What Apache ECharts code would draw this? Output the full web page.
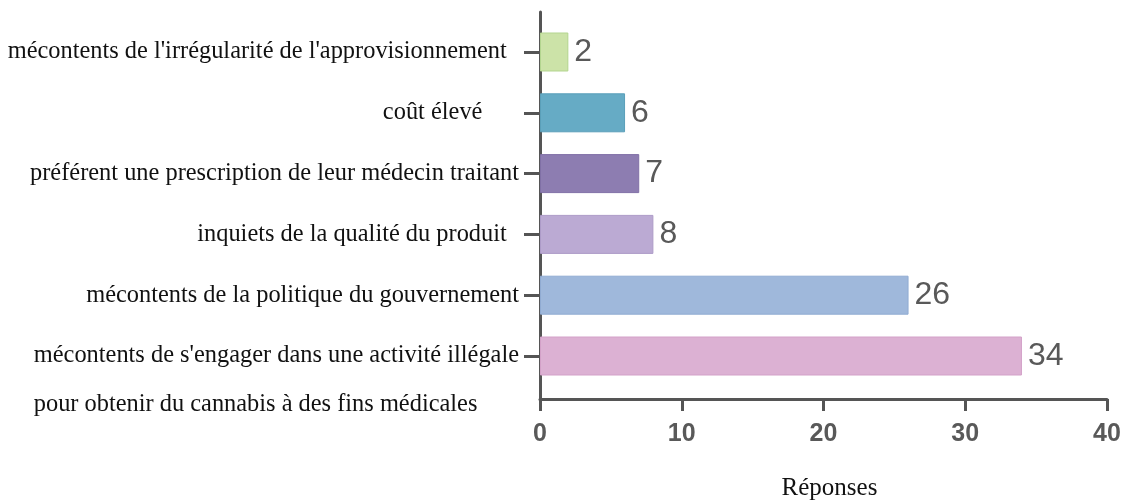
<!DOCTYPE html>
<html>
<head>
<meta charset="utf-8">
<script src="https://cdn.jsdelivr.net/npm/echarts@6/dist/echarts.min.js"></script>
<style>
    html, body { margin: 0; padding: 0; background: #fff; }
    #chart { width: 1125px; height: 500px; }
</style>
</head>
<body>
<div id="chart"></div>
<script>
// categories top to bottom (trailing spaces as in the source labels)
var categories = [
    "mécontents de l'irrégularité de l'approvisionnement  ",
    "coût élevé      ",
    "préférent une prescription de leur médecin traitant",
    "inquiets de la qualité du produit  ",
    "mécontents de la politique du gouvernement",
    "mécontents de s'engager dans une activité illégale\npour obtenir du cannabis à des fins médicales"
];
var reponses = [2, 6, 7, 8, 26, 34];
var barColors = ['#cce3a8', '#66abc5', '#8d7db1', '#bbaad3', '#9fb8db', '#dcb1d3'];
var barBorders = ['#b3d58f', '#5a9fb9', '#8070a6', '#ad9bc8', '#90abd2', '#d3a1c8'];
var xTicks = [0, 10, 20, 30, 40];

var serif = '"Liberation Serif", "Times New Roman", serif';
var sans = '"Liberation Sans", Arial, sans-serif';

var dom = document.getElementById('chart');
var myChart = echarts.init(dom);

var option = {
    backgroundColor: '#fff',
    animation: false,
    grid: [
        { left: 540, right: 18, top: 21.6, bottom: 113.6, outerBoundsMode: 'none' },
        { left: 540, right: 18, top: 12, bottom: 100, outerBoundsMode: 'none' }
    ],
    xAxis: [
        {
            type: 'value',
            gridIndex: 0,
            min: xTicks[0],
            max: xTicks[xTicks.length - 1],
            interval: 10,
            offset: 12.6,
            name: 'Réponses',
            nameLocation: 'middle',
            nameGap: 77,
            nameTextStyle: { fontFamily: serif, fontSize: 25, color: '#111', padding: [0, 0, 0, 12] },
            axisLine: { show: true, lineStyle: { color: '#555', width: 3 } },
            axisTick: { show: true, length: 12, lineStyle: { color: '#555', width: 3 } },
            axisLabel: { margin: 23, fontFamily: sans, fontSize: 25, fontWeight: 'bold', color: '#595959' },
            splitLine: { show: false }
        },
        {
            type: 'value',
            gridIndex: 1,
            show: false
        }
    ],
    yAxis: [
        {
            type: 'category',
            gridIndex: 0,
            inverse: true,
            data: categories,
            axisLine: { show: false },
            axisTick: { show: true, interval: 0, alignWithLabel: true, length: 16, lineStyle: { color: '#555', width: 3 } },
            axisLabel: {
                interval: 0,
                hideOverlap: false,
                margin: 21,
                fontFamily: serif,
                fontSize: 24.4,
                color: '#111',
                formatter: function (v) {
                    if (v.indexOf('\n') < 0) return v;
                    return '{l|\u00a0}\n' + v.split('\n').map(function (s) {
                        return '{l|' + s + '}';
                    }).join('\n');
                },
                rich: {
                    l: { align: 'left', lineHeight: 49, fontFamily: serif, fontSize: 24.4, color: '#111' }
                }
            }
        },
        {
            type: 'value',
            gridIndex: 1,
            axisLine: { show: true, lineStyle: { color: '#555', width: 3 } },
            axisTick: { show: false },
            axisLabel: { show: false },
            splitLine: { show: false }
        }
    ],
    series: [
        {
            name: 'Réponses',
            type: 'bar',
            xAxisIndex: 0,
            yAxisIndex: 0,
            barWidth: 39,
            data: reponses.map(function (v, i) {
                return {
                    value: v,
                    itemStyle: { color: barColors[i], borderColor: barBorders[i], borderWidth: 1 }
                };
            }),
            label: {
                show: true,
                position: 'right',
                distance: 6,
                fontFamily: sans,
                fontSize: 32,
                color: '#595959'
            }
        }
    ]
};

myChart.setOption(option, true);
</script>
</body>
</html>
